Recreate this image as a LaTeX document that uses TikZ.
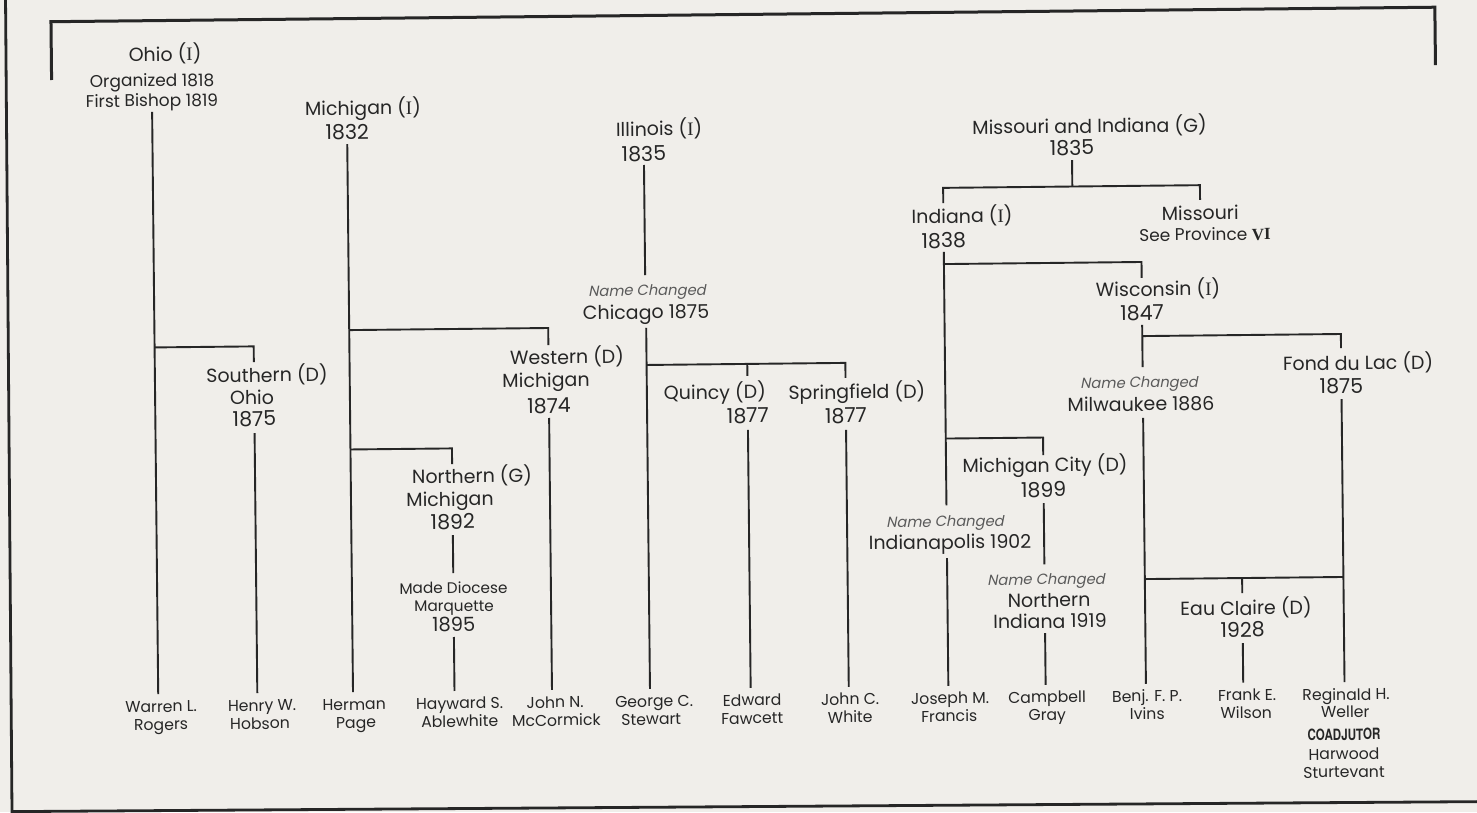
\documentclass[tikz,border=0pt]{standalone}
\usepackage{fontspec}
\setmainfont{Poppins}
\newfontfamily\serf{Liberation Serif}
\newfontfamily\ncf[FakeSlant=0.2]{Poppins}
\newfontfamily\coadjf[FakeStretch=0.75]{TeX Gyre Heros}
\newcommand{\SerI}{{\serf I}}
\definecolor{paper}{HTML}{F0EEEA}
\definecolor{ink}{HTML}{262626}
\definecolor{ncgray}{HTML}{5A5A5A}
\tikzset{
  lbl/.style={inner sep=0pt, outer sep=0pt, text=ink, anchor=center},
  big/.style={lbl, font=\fontsize{19}{22}\selectfont, text height=14pt, text depth=0pt},
  yr/.style={lbl, font=\fontsize{20.5}{22}\selectfont, text height=14pt, text depth=0pt},
  sml/.style={lbl, font=\fontsize{17}{19}\selectfont, text height=13pt, text depth=0pt},
  tiny/.style={lbl, font=\fontsize{15.3}{18}\selectfont, text height=13pt, text depth=0pt},
  who/.style={lbl, font=\fontsize{15.7}{18}\selectfont, text height=13pt, text depth=0pt},
  nc/.style={lbl, font=\ncf\fontsize{14.7}{17}\selectfont, text=ncgray, text height=11.5pt, text depth=0pt},
  coj/.style={lbl, font=\coadjf\bfseries\fontsize{15.5}{17}\selectfont, text height=12pt, text depth=0pt},
  link/.style={draw=ink, line width=1.9pt},
}
\begin{document}
\begin{tikzpicture}[x=1pt,y=-1pt]
\useasboundingbox (0,0) rectangle (1477,812);
\fill[paper] (0,0) rectangle (1477,812);
% outer frame (page border)
\draw[ink, line width=2.8pt] (5.5,-5) -- (12,811.6) -- (1482,801.6);
\begin{scope}[transform canvas={rotate around={0.6:(739,406)}}]
% top bracket
\draw[ink, line width=3pt] (55,72.8) -- (55,14.5) -- (1439,14.5) -- (1439,72.5);
% junction levels
\coordinate (jso) at (0,341.3);
\coordinate (jwe) at (0,326);
\coordinate (jnm) at (0,445.4);
\coordinate (jq)  at (0,364);
\coordinate (jmi) at (0,190);
\coordinate (jwi) at (0,266.2);
\coordinate (jfd) at (0,340.3);
\coordinate (jmc) at (0,440.7);
\coordinate (jec) at (0,583.3);
% ---- Ohio
\node[big] (ohA) at (168.7,48) {Ohio (\SerI)};
\node[sml] (ohB) at (155.4,74) {Organized 1818};
\node[sml] (ohC) at (155.2,94) {First Bishop 1819};
\node[big] (soA) at (267.3,370) {Southern (D)};
\node[big] (soB) at (252.1,392) {Ohio};
\node[yr]  (soC) at (254.3,414) {1875};
% ---- Michigan
\node[big] (miA) at (366,104) {Michigan (\SerI)};
\node[yr]  (miB) at (350,128) {1832};
\node[big] (weA) at (567.5,355.2) {Western (D)};
\node[big] (weB) at (546.3,378) {Michigan};
\node[yr]  (weC) at (549,404) {1874};
\node[big] (nmA) at (471.3,473.2) {Northern (G)};
\node[big] (nmB) at (449,496) {Michigan};
\node[yr]  (nmC) at (451.5,519) {1892};
\node[tiny] (mdA) at (451.6,584) {Made Diocese};
\node[tiny] (mdB) at (452,602) {Marquette};
\node[lbl, font=\fontsize{19.5}{20}\selectfont, text height=13pt, text depth=0pt] (mdC) at (451.5,622) {1895};
% ---- Illinois
\node[big] (ilA) at (662,128) {Illinois (\SerI)};
\node[yr]  (ilB) at (646.5,153) {1835};
\node[nc]  (chA) at (648.2,289) {Name Changed};
\node[big] (chB) at (647,311) {Chicago 1875};
\node[big] (qA) at (715,392) {Quincy (D)};
\node[yr]  (qB) at (747.7,416) {1877};
\node[big] (spA) at (857,393) {Springfield (D)};
\node[yr]  (spB) at (845.8,417) {1877};
% ---- Missouri and Indiana
\node[big] (maA) at (1092.4,129.7) {Missouri and Indiana (G)};
\node[yr]  (maB) at (1074.6,151.5) {1835};
\node[big] (moA) at (1202.2,217.8) {Missouri};
\node[sml] (moB) at (1206.8,238.9) {See Province {\serf\bfseries VI}};
\node[big] (inA) at (964,218.3) {Indiana (\SerI)};
\node[yr]  (inB) at (945.4,243.1) {1838};
\node[big] (wiA) at (1159.2,293.4) {Wisconsin (\SerI)};
\node[yr]  (wiB) at (1143,317.2) {1847};
\node[nc]  (mwA) at (1139.3,386.2) {Name Changed};
\node[big] (mwB) at (1141,408.2) {Milwaukee 1886};
\node[big] (fdA) at (1358.5,369.5) {Fond du Lac (D)};
\node[yr]  (fdB) at (1341.6,392.4) {1875};
\node[big] (mcA) at (1044.4,468.2) {Michigan City (D)};
\node[yr]  (mcB) at (1042.7,493.2) {1899};
\node[nc]  (ipA) at (943.8,523.2) {Name Changed};
\node[big] (ipB) at (948.6,544.2) {Indianapolis 1902};
\node[nc]  (niA) at (1044.2,582.2) {Name Changed};
\node[big] (niB) at (1047,603.3) {Northern};
\node[big] (niC) at (1047.7,624.3) {Indiana 1919};
\node[big] (ecA) at (1243.9,613.3) {Eau Claire (D)};
\node[yr]  (ecB) at (1240.3,635.3) {1928};
% ---- bishops
\node[who] (warren) at (157.9,699.5) {Warren L.};
\node[who] (rogers) at (157.7,717.5) {Rogers};
\node[who] (henry) at (258.9,699.5) {Henry W.};
\node[who] (hobson) at (256.7,717.5) {Hobson};
\node[who] (herman) at (351,699.5) {Herman};
\node[who] (page) at (352.7,717.5) {Page};
\node[who] (hayward) at (456.4,699.5) {Hayward S.};
\node[who] (ablew) at (456.4,717.5) {Ablewhite};
\node[who] (johnn) at (552,699.5) {John N.};
\node[who] (mccorm) at (553,717.5) {McCormick};
\node[who] (george) at (651,699.5) {George C.};
\node[who] (stewart) at (648,717.5) {Stewart};
\node[who] (edward) at (749,699.5) {Edward};
\node[who] (fawcett) at (749,717.5) {Fawcett};
\node[who] (johnc) at (847,699.5) {John C.};
\node[who] (white) at (847,717.5) {White};
\node[who] (joseph) at (947,699.5) {Joseph M.};
\node[who] (francis) at (946,717.5) {Francis};
\node[who] (campbell) at (1044,699.5) {Campbell};
\node[who] (gray) at (1044,717.5) {Gray};
\node[who] (benj) at (1144,699.5) {Benj. F. P.};
\node[who] (ivins) at (1144,717.5) {Ivins};
\node[who] (frank) at (1244,699.5) {Frank E.};
\node[who] (wilson) at (1243,717.5) {Wilson};
\node[who] (reg) at (1343,700) {Reginald H.};
\node[who] (weller) at (1342,717.5) {Weller};
\node[coj] (coadj) at (1340.5,740.5) {COADJUTOR};
\node[who] (harwood) at (1340.3,759.5) {Harwood};
\node[who] (sturt) at (1340.1,777.5) {Sturtevant};
% ---- trunks
\draw[link, shorten <=5.3pt, shorten >=5pt] (ohC.south) -- (ohC |- warren.north);
\draw[link, shorten <=7pt, shorten >=5pt] (soC.south) -- (soC |- henry.north);
\draw[link, shorten <=5pt, shorten >=5pt] (miB.south) -- (miB |- herman.north);
\draw[link, shorten <=5pt, shorten >=5pt] (weC.south) -- (weC |- johnn.north);
\draw[link, shorten <=6pt, shorten >=7.5pt] (nmC.south) -- (nmC |- mdA.north);
\draw[link, shorten <=5.5pt, shorten >=5pt] (mdC.south) -- (mdC |- hayward.north);
\draw[link, shorten <=4pt, shorten >=9pt] (ilB.south) -- (ilB |- chA.north);
\draw[link, shorten <=9pt, shorten >=5pt] (chB.south) -- (chB |- george.north);
\draw[link, shorten <=7pt, shorten >=5pt] (qB.south) -- (qB |- edward.north);
\draw[link, shorten <=7pt, shorten >=5pt] (spB.south) -- (spB |- johnc.north);
\draw[link, shorten <=5pt] (maB.south) -- (maB |- jmi);
\draw[link, shorten <=4pt, shorten >=10pt] (inB.south) -- (inB |- ipA.north);
\draw[link, shorten <=9pt, shorten >=5pt] (inB |- ipB.south) -- (inB |- joseph.north);
\draw[link, shorten <=5pt, shorten >=9pt] (wiB.south) -- (wiB |- mwA.north);
\draw[link, shorten <=7pt, shorten >=5pt] (wiB |- mwB.south) -- (wiB |- benj.north);
\draw[link, shorten <=6pt, shorten >=5pt] (fdB.south) -- (fdB |- reg.north);
\draw[link, shorten <=6pt, shorten >=9pt] (mcB.south) -- (mcB |- niA.north);
\draw[link, shorten <=5pt, shorten >=5pt] (mcB |- niC.south) -- (mcB |- campbell.north);
\draw[link, shorten <=6pt, shorten >=5pt] (ecB.south) -- (ecB |- frank.north);
% ---- branches
\draw[link, shorten >=6pt] (ohC |- jso) -| (soC |- soA.north);
\draw[link, shorten >=5pt] (miB |- jwe) -| (weC |- weA.north);
\draw[link, shorten >=5pt] (miB |- jnm) -| (nmC |- nmA.north);
\draw[link, shorten >=7pt] (chB |- jq) -| (spB |- spA.north);
\draw[link, shorten >=9pt] (qB |- jq) -- (qB |- qA.north);
\draw[link, shorten <=6pt, shorten >=6pt] (inB |- inA.north) -- (inB |- jmi) -- (moA |- jmi) -- (moA.north);
\draw[link, shorten >=4.4pt] (inB |- jwi) -| (wiB |- wiA.north);
\draw[link, shorten >=8pt] (wiB |- jfd) -| (fdB |- fdA.north);
\draw[link, shorten >=3pt] (inB |- jmc) -| (mcB |- mcA.north);
\draw[link] (wiB |- jec) -- (fdB |- jec);
\draw[link, shorten >=8pt] (ecB |- jec) -- (ecB |- ecA.north);
\end{scope}
\end{tikzpicture}
\end{document}
